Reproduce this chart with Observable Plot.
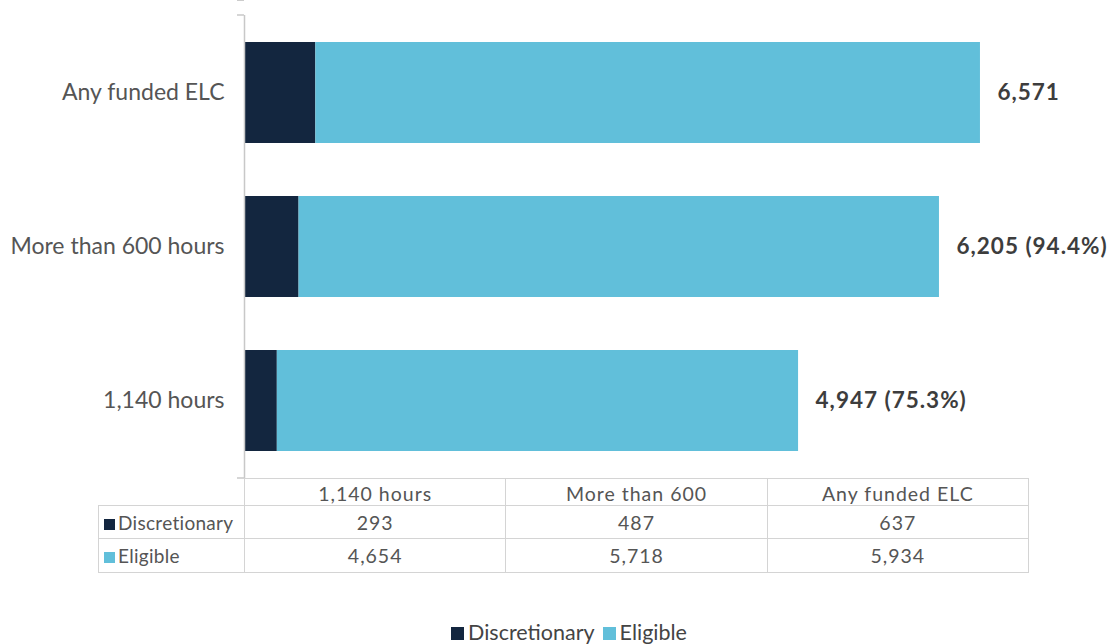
<!DOCTYPE html>
<html>
<head>
<meta charset="utf-8">
<script src="https://cdn.jsdelivr.net/npm/d3@7"></script>
<script src="https://cdn.jsdelivr.net/npm/@observablehq/plot@0.6"></script>
<style>
  body { margin: 0; background: #fff; font-family: Lato, "Open Sans", sans-serif; }
  #wrap { position: relative; width: 1118px; height: 644px; overflow: hidden; }
  #chart { position: absolute; left: 0; top: 0; }
  #tbl { position: absolute; border-collapse: collapse; table-layout: fixed; color: #555; font-family: Lato, sans-serif; }
  #tbl td { border: 1.5px solid #d4d4d4; text-align: center; padding: 0; font-size: 19.5px; letter-spacing: 1px; }
  #tbl td.blank { border: none; }
  #tbl td.rl { text-align: left; font-size: 19px; letter-spacing: 0.3px; padding-left: 5px; white-space: nowrap; }
  .sw { display: inline-block; width: 11px; height: 11px; margin-right: 3px; vertical-align: 0px; }
  #legend { position: absolute; left: 20px; width: 1098px; top: 619px; text-align: center; font-size: 21.5px; color: #444; }
  #legend .sw { width: 13px; height: 13px; margin-right: 4px; }
</style>
</head>
<body>
<div id="wrap">
  <div id="chart"></div>
  <table id="tbl"></table>
  <div id="legend"></div>
</div>
<script>
// ---- data ----
const categories = ["1,140 hours", "More than 600 hours", "Any funded ELC"];
const tableHeaders = ["1,140 hours", "More than 600", "Any funded ELC"];
const seriesNames = ["Discretionary", "Eligible"];
const discretionary = [293, 487, 637];
const eligible = [4654, 5718, 5934];
const totalLabels = ["4,947 (75.3%)", "6,205 (94.4%)", "6,571"];
const colors = ["#13263f", "#61bfda"];
const xMax = 7000;

// ---- derived tables ----
const rows = [];
categories.forEach((c, i) => {
  rows.push({cat: c, series: seriesNames[0], value: discretionary[i]});
  rows.push({cat: c, series: seriesNames[1], value: eligible[i]});
});
const totals = categories.map((c, i) => ({cat: c, total: discretionary[i] + eligible[i], label: totalLabels[i]}));
const yOrder = categories.slice().reverse();

// boundary ticks between bands, using the library's y scale
function bandTicks() {
  return (index, scales, values, dim) => {
    const y = scales.y;
    const top = dim.marginTop, bottom = dim.height - dim.marginBottom;
    const pos = [top];
    for (let i = 0; i < yOrder.length - 1; i++) {
      pos.push((y(yOrder[i]) + y.bandwidth + y(yOrder[i + 1])) / 2);
    }
    pos.push(bottom);
    const x0 = scales.x(0);
    const g = d3.create("svg:g");
    g.selectAll("line").data(pos).join("line")
      .attr("x1", x0 - 7).attr("x2", x0)
      .attr("y1", d => d).attr("y2", d => d)
      .attr("stroke", "#c8c8c8").attr("stroke-width", 1.5);
    return g.node();
  };
}

const plot = Plot.plot({
  width: 1118,
  height: 480,
  marginLeft: 244,
  marginRight: 90,
  marginTop: 15,
  marginBottom: 2,
  style: {fontFamily: "Lato, sans-serif", background: "transparent"},
  x: {domain: [0, xMax], axis: null},
  y: {domain: yOrder, paddingInner: 0.344, paddingOuter: 0.172, label: null},
  color: {domain: seriesNames, range: colors},
  marks: [
    Plot.axisY({tickSize: 0, tickPadding: 20, fontSize: 23, color: "#555", label: null}),
    Plot.barX(rows, {x: "value", y: "cat", fill: "series"}),
    Plot.ruleX([0], {stroke: "#c8c8c8", strokeWidth: 1.5}),
    bandTicks(),
    Plot.text(totals, {x: "total", y: "cat", text: "label", textAnchor: "start", dx: 17,
      fontWeight: "bold", fontSize: 22.5, fill: "#3d3d3d"})
  ]
});
plot.querySelectorAll("g[aria-label='text'] text").forEach(t => t.setAttribute("letter-spacing", "1px"));
document.getElementById("chart").appendChild(plot);

// ---- data table below, aligned with x scale ----
const xs = plot.scale("x");
const left = xs.apply(0), right = xs.apply(xMax);
const colW = (right - left) / 3;
const labelW = 146;
const tbl = d3.select("#tbl")
  .style("left", (left - labelW) + "px")
  .style("top", "478px")
  .style("width", (right - left + labelW) + "px");
const cg = tbl.append("colgroup");
cg.append("col").style("width", labelW + "px");
tableHeaders.forEach(() => cg.append("col").style("width", colW + "px"));
const hr = tbl.append("tr").style("height", "27px");
hr.append("td").attr("class", "blank");
tableHeaders.forEach(h => hr.append("td").text(h).style("vertical-align", "bottom").style("line-height", "22px"));
[discretionary, eligible].forEach((vals, si) => {
  const tr = tbl.append("tr").style("height", si === 0 ? "33px" : "34px");
  const td = tr.append("td").attr("class", "rl");
  td.append("span").attr("class", "sw").style("background", colors[si]);
  td.append("span").text(seriesNames[si]);
  vals.forEach(v => tr.append("td").text(d3.format(",")(v)));
});

// ---- legend ----
const lg = d3.select("#legend");
seriesNames.forEach((s, i) => {
  const it = lg.append("span").style("margin-right", i === 0 ? "8px" : "0");
  it.append("span").attr("class", "sw").style("background", colors[i]);
  it.append("span").text(s);
});
</script>
</body>
</html>
